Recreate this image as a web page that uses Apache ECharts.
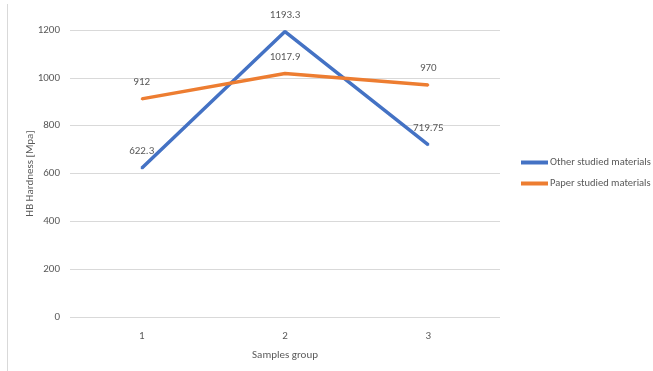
<!DOCTYPE html>
<html>
<head>
<meta charset="utf-8">
<script src="https://cdn.jsdelivr.net/npm/echarts@6/dist/echarts.min.js"></script>
<style>
  html, body { margin: 0; padding: 0; background: #fff; }
  #chart { width: 653px; height: 371px; }
</style>
</head>
<body>
<div id="chart"></div>
<script>
// sample groups on the x axis
var groups = ['1', '2', '3'];
// hardness values
var otherMaterials = [622.3, 1193.3, 719.75];
var paperMaterials = [912, 1017.9, 970];
var seriesNames = ['Other studied materials', 'Paper studied materials'];

var textColor = '#595959';
var fontFamily = 'Calibri, Carlito, "Liberation Sans", sans-serif';

var chart = echarts.init(document.getElementById('chart'));

function lineSeries(name, data, color) {
  return {
    name: name,
    type: 'line',
    data: data,
    // tiny symbol hidden under the line, just so the labels get drawn
    symbol: 'circle',
    symbolSize: 2,
    showSymbol: true,
    lineStyle: { width: 3.5, color: color },
    itemStyle: { color: color },
    label: {
      show: true,
      position: 'top',
      distance: 10,
      color: textColor,
      fontSize: 11,
      fontFamily: fontFamily,
      formatter: function (p) { return String(p.value); }
    },
    animation: false
  };
}

chart.setOption({
  backgroundColor: '#fff',
  textStyle: { fontFamily: fontFamily },
  grid: { left: 70, right: 153, top: 30, bottom: 54, containLabel: false },
  legend: {
    orient: 'vertical',
    left: 516,
    top: 152,
    itemWidth: 27,
    itemHeight: 4,
    itemGap: 10,
    icon: 'rect',
    textStyle: { color: textColor, fontSize: 10.5, padding: [0, 0, 0, -3] },
    data: seriesNames
  },
  xAxis: {
    type: 'category',
    data: groups,
    name: 'Samples group',
    nameLocation: 'middle',
    nameGap: 33,
    nameTextStyle: { color: textColor, fontSize: 11 },
    axisLine: { show: false },
    axisTick: { show: false },
    axisLabel: { color: textColor, fontSize: 11, margin: 14 }
  },
  yAxis: {
    type: 'value',
    min: 0,
    max: 1200,
    interval: 200,
    name: 'HB Hardness [Mpa]',
    nameLocation: 'middle',
    nameGap: 34,
    nameMoveOverlap: false,
    nameTextStyle: { color: textColor, fontSize: 11 },
    axisLine: { show: false },
    axisTick: { show: false },
    axisLabel: {
      color: textColor, fontSize: 11, margin: 10,
      formatter: function (v) { return String(v); }
    },
    splitLine: { lineStyle: { color: '#d9d9d9', width: 1 } }
  },
  graphic: [{
    type: 'line',
    shape: { x1: 7.5, y1: 4, x2: 7.5, y2: 371 },
    style: { stroke: '#d9d9d9', lineWidth: 1 }
  }],
  series: [
    lineSeries(seriesNames[0], otherMaterials, '#4472C4'),
    lineSeries(seriesNames[1], paperMaterials, '#ED7D31')
  ]
});
</script>
</body>
</html>
